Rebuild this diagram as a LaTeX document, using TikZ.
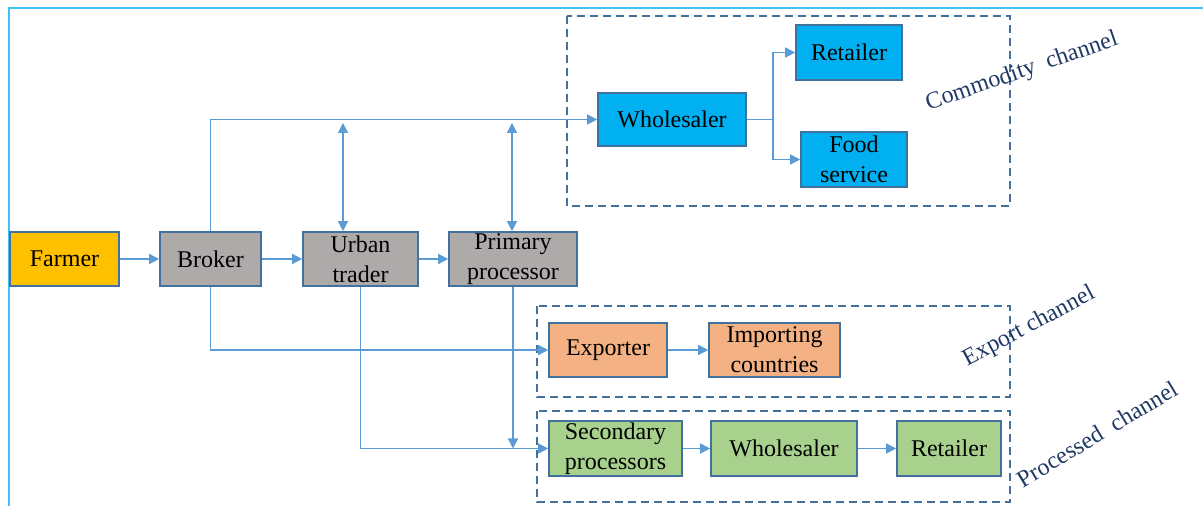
\documentclass[tikz,border=0pt]{standalone}
\usepackage{fontspec}
\setmainfont{Liberation Serif}
\usetikzlibrary{arrows.meta}
\definecolor{flowblue}{HTML}{5B9BD5}
\definecolor{edgeblue}{HTML}{41719C}
\definecolor{dashblue}{HTML}{44709C}
\definecolor{navytext}{HTML}{1F3864}
\definecolor{framecyan}{HTML}{3EC3F5}
\definecolor{farmeryellow}{HTML}{FFC000}
\definecolor{tradergray}{HTML}{AEAAAA}
\definecolor{commblue}{HTML}{00B0F0}
\definecolor{exportorange}{HTML}{F4B183}
\definecolor{procgreen}{HTML}{A9D18E}
\tikzset{
  stage/.style={draw=edgeblue, line width=0.8pt, rectangle, inner sep=0pt, align=center,
    minimum height=27pt, font=\fontsize{12}{15}\selectfont},
  flow/.style={flowblue, line width=0.7pt, -{Triangle[length=5pt,width=5pt]}},
  biflow/.style={flowblue, line width=0.7pt, {Triangle[length=5pt,width=5pt]}-{Triangle[length=5pt,width=5pt]}},
  channel/.style={dashblue, line width=1.1pt, dash pattern=on 4pt off 2.5pt},
  chlabel/.style={text=navytext, font=\fontsize{12}{14}\selectfont, inner sep=0pt}
}
\begin{document}
\begin{tikzpicture}[x=0.5pt, y=-0.5pt]
    \useasboundingbox (0,0) rectangle (1203,506);
    % frame
    \draw[framecyan, line width=0.6pt] (1203,8) -- (9,8) -- (9,506);

    % channels
    \draw[channel] (567,16) rectangle (1010,206);
    \draw[channel] (537,306) rectangle (1010,397);
    \draw[channel] (537,411) rectangle (1010,502);
    \node[chlabel, rotate=19] (commlab) at (1022,72) {Commodity\ \ channel};
    \node[chlabel, rotate=28] (explab) at (1029,327) {Export channel};
    \node[chlabel, rotate=31] (proclab) at (1097,434) {Processed\ \ channel};

    % main chain
    \node[stage, fill=farmeryellow, minimum width=54.5pt] (farmer) at (64.5,259) {Farmer};
    \node[stage, fill=tradergray, minimum width=50.5pt] (broker) at (210.5,259) {Broker};
    \node[stage, fill=tradergray, minimum width=57.5pt] (urban) at (360.5,259) {Urban\\trader};
    \node[stage, fill=tradergray, minimum width=64pt] (primary) at (513,259) {Primary\\processor};

    % commodity channel
    \node[stage, fill=commblue, minimum width=74pt, minimum height=26.5pt] (wholesaler) at (672,119.5) {Wholesaler};
    \node[stage, fill=commblue, minimum width=53pt, minimum height=27.5pt] (retailer) at (849,52.5) {Retailer};
    \node[stage, fill=commblue, minimum width=53pt, minimum height=27.5pt] (food) at (854,159.5) {Food\\service};

    % export channel
    \node[stage, fill=exportorange, minimum width=59pt] (exporter) at (608,350) {Exporter};
    \node[stage, fill=exportorange, minimum width=65.5pt] (importing) at (774.5,350) {Importing\\countries};

    % processed channel
    \node[stage, fill=procgreen, minimum width=66.5pt, minimum height=27.5pt] (secondary) at (615.5,448.5) {Secondary\\processors};
    \node[stage, fill=procgreen, minimum width=73pt, minimum height=27.5pt] (wholesalerb) at (784,448.5) {Wholesaler};
    \node[stage, fill=procgreen, minimum width=52pt, minimum height=27.5pt] (retailerb) at (949,448.5) {Retailer};

    \coordinate (split) at (773,119.5);
    \coordinate (urbantop) at (343,123);
    \coordinate (primarytop) at (512,123);

    % flows
    \draw[flow] (farmer) -- (broker);
    \draw[flow] (broker) -- (urban);
    \draw[flow] (urban) -- (primary);
    \draw[flow] (broker.north) |- (wholesaler.west);
    \draw[biflow] (urbantop) -- (urbantop |- urban.north);
    \draw[biflow] (primarytop) -- (primarytop |- primary.north);
    \draw[flowblue, line width=0.7pt] (wholesaler.east) -- (split);
    \draw[flow] (split) |- (retailer.west);
    \draw[flow] (split) |- (food.west);
    \draw[flow] (broker.south) |- (exporter.west);
    \draw[flow] (exporter) -- (importing);
    \draw[flow] (urban.south) |- (secondary.west);
    \draw[flow] (primary.south) -- (primary.south |- secondary.west);
    \draw[flow] (secondary) -- (wholesalerb);
    \draw[flow] (wholesalerb) -- (retailerb);
\end{tikzpicture}
\end{document}
